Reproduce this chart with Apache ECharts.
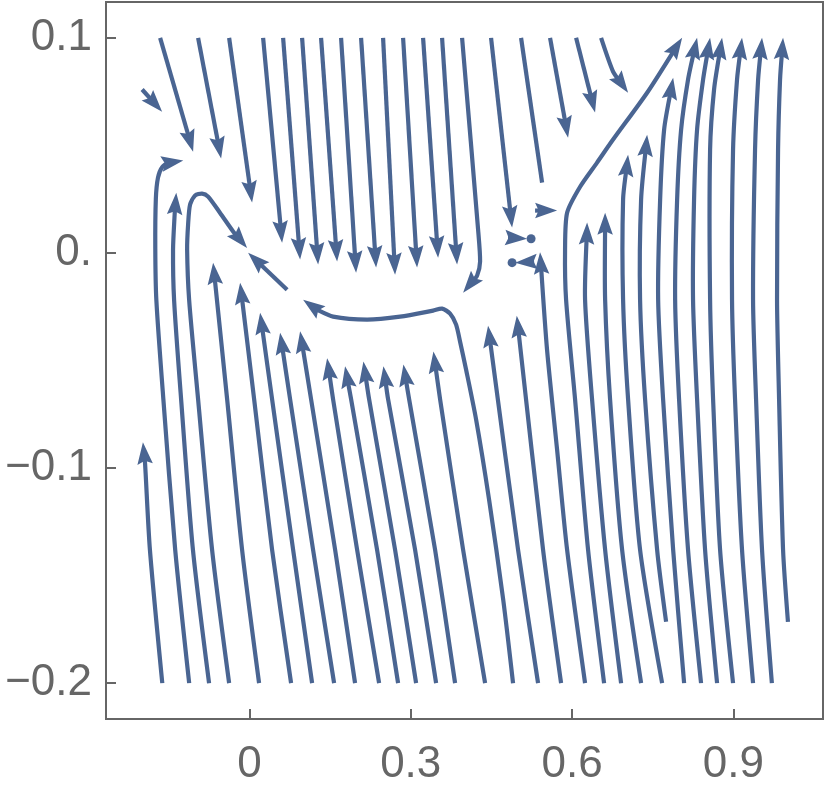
<!DOCTYPE html>
<html><head><meta charset="utf-8">
<script src="https://cdn.jsdelivr.net/npm/echarts@6/dist/echarts.min.js"></script>
<style>html,body{margin:0;padding:0;background:#fff}#c{width:830px;height:798px}</style>
</head><body><div id="c"></div>
<script>
// ---- axis ticks ----
const xTickValues = [0, 0.3, 0.6, 0.9];
const xTickLabels = ['0', '0.3', '0.6', '0.9'];
const yTickValues = [-0.2, -0.1, 0, 0.1];
const yTickLabels = ['\u22120.2', '\u22120.1', '0.', '0.1'];
const xRange = [-0.26667, 1.06667];
const yRange = [-0.21667, 0.11667];

// ---- streamlines rising from the bottom (start -> arrow tip) ----
const L1 = [[-0.162,-0.2],[-0.185,-0.138],[-0.194,-0.098],[-0.198,-0.088]];
const L2 = [[-0.112,-0.2],[-0.138,-0.138],[-0.160,-0.068],[-0.173,-0.022],[-0.175,0.002],[-0.174,0.025],[-0.170,0.035],[-0.162,0.040],[-0.147,0.0425],[-0.123,0.043]];
const L3 = [[-0.075,-0.2],[-0.105,-0.138],[-0.127,-0.068],[-0.140,-0.022],[-0.142,0.0015],[-0.139,0.018],[-0.136,0.028]];
const L4 = [[-0.0377,-0.2],[-0.0694,-0.138],[-0.0954,-0.068],[-0.1121,-0.0217],[-0.1158,0.0015],[-0.114,0.0132],[-0.1103,0.0225],[-0.101,0.0267],[-0.088,0.0276],[-0.0768,0.0262],[-0.0545,0.0186],[-0.0303,0.010],[-0.0043,0.0023]];
const L5 = [[0.018,-0.2],[-0.0136,-0.138],[-0.0414,-0.068],[-0.0675,-0.0045]];
const L6 = [[0.0775,-0.2],[0.0422,-0.138],[0.0088,-0.068],[-0.0173,-0.0138]];
const L7 = [[0.1166,-0.2],[0.0813,-0.138],[0.0422,-0.068],[0.0199,-0.0278]];
const L8 = [[0.1575,-0.2],[0.1184,-0.138],[0.0757,-0.068],[0.0571,-0.0371]];
const L9 = [[0.1965,-0.2],[0.1594,-0.138],[0.1147,-0.068],[0.0943,-0.0364]];
const L10 = [[0.2412,-0.2],[0.2003,-0.138],[0.1556,-0.068],[0.1445,-0.0489]];
const L11 = [[0.2765,-0.2],[0.2374,-0.138],[0.1891,-0.068],[0.1779,-0.0527]];
const L12 = [[0.310,-0.2],[0.2709,-0.138],[0.2226,-0.068],[0.2120,-0.0505]];
const L13 = [[0.3472,-0.2],[0.3081,-0.138],[0.2579,-0.068],[0.2492,-0.0527]];
const L14 = [[0.3825,-0.2],[0.3453,-0.138],[0.297,-0.068],[0.2864,-0.0519]];
const L15 = [[0.4383,-0.2],[0.3974,-0.138],[0.3546,-0.068],[0.3422,-0.0458]];
const hook = [[0.4903,-0.2],[0.4720,-0.1612],[0.4457,-0.1147],[0.4216,-0.0775],[0.4030,-0.0543],[0.3918,-0.0413],[0.3844,-0.0333],[0.3732,-0.0282],[0.3583,-0.0259],[0.3416,-0.0268],[0.2802,-0.0296],[0.2189,-0.031],[0.1556,-0.0296],[0.1259,-0.0264],[0.0999,-0.0217]];
const R1 = [[0.5368,-0.2],[0.4996,-0.138],[0.4438,-0.0338]];
const R2 = [[0.5796,-0.2],[0.5461,-0.138],[0.4972,-0.0292]];
const R3 = [[0.6242,-0.2],[0.5908,-0.138],[0.5722,-0.0915],[0.5535,-0.045],[0.5405,0.0003]];
const diag = [[0.6596,-0.2],[0.6298,-0.138],[0.6056,-0.068],[0.5889,-0.0217],[0.587,0.0015],[0.5908,0.0187],[0.6150,0.0308],[0.6465,0.042],[0.6763,0.0527],[0.7396,0.0745],[0.8047,0.1001]];
const R4 = [[0.6912,-0.2],[0.6615,-0.138],[0.6372,-0.068],[0.6242,-0.0217],[0.628,0.0141]];
const R5 = [[0.7284,-0.2],[0.6931,-0.138],[0.6707,-0.068],[0.6615,-0.0217],[0.6615,0.0187]];
const R6 = [[0.7675,-0.2],[0.7265,-0.138],[0.7042,-0.068],[0.6949,-0.0217],[0.6949,0.0248],[0.7042,0.0457]];
const R7 = [[0.7749,-0.1715],[0.7582,-0.138],[0.7358,-0.068],[0.7265,-0.0217],[0.7284,0.0248],[0.7396,0.055]];
const R8 = [[0.8084,-0.2],[0.788,-0.138],[0.7693,-0.068],[0.7601,-0.0217],[0.7638,0.0248],[0.7712,0.0573],[0.788,0.0815]];
const R9 = [[0.8399,-0.2],[0.8157,-0.138],[0.799,-0.068],[0.7917,-0.0217],[0.7954,0.0248],[0.8028,0.0573],[0.8157,0.0806],[0.8325,0.1001]];
const R10 = [[0.8697,-0.2],[0.8474,-0.138],[0.8325,-0.068],[0.825,-0.0217],[0.8269,0.0248],[0.8325,0.0573],[0.8437,0.0806],[0.8567,0.1001]];
const R11 = [[0.8994,-0.2],[0.8753,-0.138],[0.8623,-0.068],[0.8567,-0.0217],[0.8567,0.048],[0.8641,0.076],[0.879,0.1001]];
const R12 = [[0.9366,-0.2],[0.9161,-0.138],[0.9031,-0.068],[0.8975,-0.0217],[0.8994,0.048],[0.9068,0.0806],[0.9161,0.1001]];
const R13 = [[0.9716,-0.2],[0.9533,-0.138],[0.9422,-0.068],[0.9366,-0.0217],[0.9403,0.048],[0.946,0.0806],[0.9533,0.1001]];
const R14 = [[1.0015,-0.1715],[0.9924,-0.138],[0.985,-0.068],[0.9812,-0.0217],[0.9831,0.048],[0.9868,0.0806],[0.9924,0.1001]];

// ---- streamlines falling from the top (start -> arrow tip) ----
const T1 = [[-0.166,0.1],[-0.1047,0.0471]];
const T2 = [[-0.0954,0.1],[-0.0526,0.0439]];
const T3 = [[-0.0377,0.1],[0.005,0.0234]];
const T4 = [[0.0255,0.1],[0.0608,0.0048]];
const T5 = [[0.0627,0.1],[0.0943,-0.0031]];
const T6 = [[0.098,0.1],[0.1278,-0.0054]];
const T7 = [[0.1333,0.1],[0.1631,-0.004]];
const T8 = [[0.1705,0.1],[0.1984,-0.0092]];
const T9 = [[0.2077,0.1],[0.2356,-0.0068]];
const T10 = [[0.2486,0.1],[0.2709,-0.0101]];
const T11 = [[0.2858,0.1],[0.3118,-0.0068]];
const T12 = [[0.323,0.1],[0.3509,-0.0022]];
const T13 = [[0.3583,0.1],[0.3862,-0.0054]];
const T14 = [[0.3955,0.1],[0.4253,0.0108],[0.4290,-0.004],[0.4235,-0.0105],[0.3974,-0.0185]];
const T15 = [[0.4494,0.1],[0.4885,0.0118]];
const T17 = [[0.5591,0.1],[0.5926,0.0536]];
const T18 = [[0.6075,0.1],[0.6428,0.0653]];
const T19 = [[0.654,0.1],[0.6763,0.0843],[0.7042,0.0745]];

// ---- short streamlines ----
const S1 = [[-0.1995,0.076],[-0.1623,0.0657]];
const S2 = [[0.0701,-0.0171],[-0.0024,0.0001]];
const S3 = [[0.5312,0.0197],[0.5722,0.0197]];
const S4 = [[0.481,0.0071],[0.5163,0.0066]];
const S5 = [[0.5294,-0.004],[0.4941,-0.0045]];

// streamline without arrowhead
const T16 = [[0.5052,0.1],[0.5443,0.0327]];

// end dots
const dotPoints = [[0.5238,0.0066],[0.4885,-0.0045]];

const arrowStreams = [L1,L2,L3,L4,L5,L6,L7,L8,L9,L10,L11,L12,L13,L14,L15,hook,
  R1,R2,R3,diag,R4,R5,R6,R7,R8,R9,R10,R11,R12,R13,R14,
  T1,T2,T3,T4,T5,T6,T7,T8,T9,T10,T11,T12,T13,T14,T15,T17,T18,T19,
  S1,S2,S3,S4,S5];
const plainStreams = [T16];

const COLOR = '#4a6592';
const LW = 4.2, AL = 22, AW = 15.5, NOTCH = 3.5;

function pointBack(pts, D) {
  let acc = 0;
  for (let i = pts.length - 1; i > 0; i--) {
    const a = pts[i], b = pts[i - 1];
    const seg = Math.hypot(a[0] - b[0], a[1] - b[1]);
    if (seg > 0 && acc + seg >= D) {
      const t = (D - acc) / seg;
      return { pt: [a[0] + (b[0] - a[0]) * t, a[1] + (b[1] - a[1]) * t], idx: i - 1, ok: true };
    }
    acc += seg;
  }
  return { pt: pts[0], idx: 0, ok: false };
}

function renderArrowStream(params, api) {
  const s = arrowStreams[api.value(2)];
  const pts = s.map(p => api.coord(p));
  const tip = pts[pts.length - 1];
  const dref = pointBack(pts, AL * 0.7).pt;
  let dx = tip[0] - dref[0], dy = tip[1] - dref[1];
  const len = Math.hypot(dx, dy) || 1;
  dx /= len; dy /= len;
  const nx = -dy, ny = dx;
  const bx = tip[0] - dx * AL, by = tip[1] - dy * AL;
  const children = [];
  const cut = pointBack(pts, AL * 0.6);
  if (cut.ok) {
    const line = pts.slice(0, cut.idx + 1);
    line.push(cut.pt);
    children.push({
      type: 'polyline',
      shape: { points: line, smooth: 0.25 },
      style: { stroke: COLOR, lineWidth: LW, fill: null, lineJoin: 'round' }
    });
  }
  children.push({
    type: 'polygon',
    shape: { points: [
      tip,
      [bx + nx * AW / 2, by + ny * AW / 2],
      [bx + dx * NOTCH, by + dy * NOTCH],
      [bx - nx * AW / 2, by - ny * AW / 2]
    ] },
    style: { fill: COLOR, stroke: null }
  });
  return { type: 'group', children };
}

function renderPlainStream(params, api) {
  const s = plainStreams[api.value(2)];
  const pts = s.map(p => api.coord(p));
  return {
    type: 'polyline',
    shape: { points: pts, smooth: 0.25 },
    style: { stroke: COLOR, lineWidth: LW, fill: null }
  };
}

function fmt(values, labels) {
  return function (v) {
    const i = values.findIndex(t => Math.abs(t - v) < 1e-9);
    return i >= 0 ? labels[i] : '';
  };
}

const chart = echarts.init(document.getElementById('c'), null, { renderer: 'canvas' });
chart.setOption({
  animation: false,
  backgroundColor: '#fff',
  grid: { left: 106, top: 2, width: 717, height: 717, show: true, borderColor: '#666', borderWidth: 2, backgroundColor: 'transparent' },
  xAxis: {
    type: 'value', min: xRange[0], max: xRange[1],
    axisLine: { show: false, onZero: false },
    splitLine: { show: false },
    axisTick: { show: true, inside: true, length: 10, customValues: xTickValues, lineStyle: { color: '#666', width: 2 } },
    axisLabel: { customValues: xTickValues, formatter: fmt(xTickValues, xTickLabels), margin: 24,
      color: '#666', fontSize: 44, fontFamily: 'Liberation Sans' }
  },
  yAxis: {
    type: 'value', min: yRange[0], max: yRange[1],
    axisLine: { show: false, onZero: false },
    splitLine: { show: false },
    axisTick: { show: true, inside: true, length: 10, customValues: yTickValues, lineStyle: { color: '#666', width: 2 } },
    axisLabel: { customValues: yTickValues, formatter: fmt(yTickValues, yTickLabels), margin: 14,
      color: '#666', fontSize: 44, fontFamily: 'Liberation Sans' }
  },
  series: [
    {
      type: 'custom', renderItem: renderPlainStream, silent: true,
      data: plainStreams.map((s, i) => [s[0][0], s[0][1], i])
    },
    {
      type: 'custom', renderItem: renderArrowStream, silent: true,
      data: arrowStreams.map((s, i) => [s[0][0], s[0][1], i])
    },
    {
      type: 'scatter', symbol: 'circle', symbolSize: 9, silent: true,
      itemStyle: { color: COLOR, opacity: 1 }, data: dotPoints
    }
  ]
});
</script>
</body></html>
